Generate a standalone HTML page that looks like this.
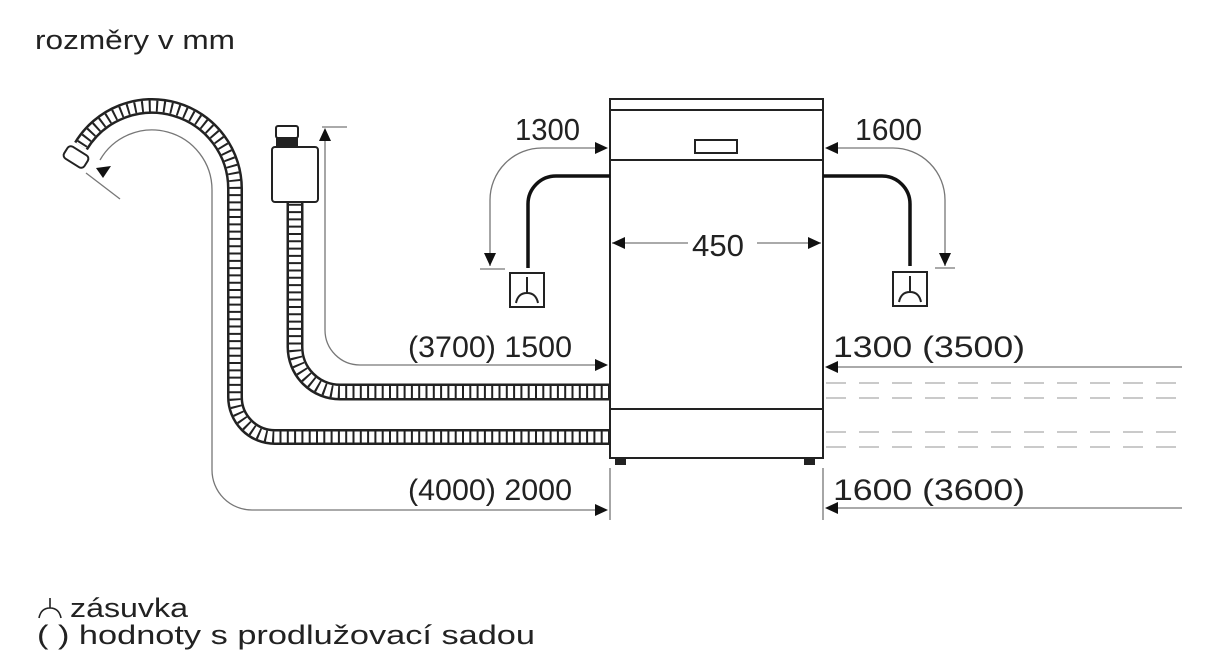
<!DOCTYPE html>
<html><head><meta charset="utf-8"><style>
html,body{margin:0;padding:0;background:#fff;}
svg{display:block;}
text{font-family:"Liberation Sans",sans-serif;fill:#222;}
</style></head><body>
<svg width="1222" height="662" viewBox="0 0 1222 662" xmlns="http://www.w3.org/2000/svg">
<text x="35" y="49" font-size="27" textLength="200" lengthAdjust="spacingAndGlyphs">rozměry v mm</text>

<g fill="none">
<path d="M610,437 H275 A40,40 0 0 1 235,397 V190 A83,83 0 0 0 81,146" stroke="#222" stroke-width="16"/>
<path d="M610,437 H275 A40,40 0 0 1 235,397 V190 A83,83 0 0 0 81,146" stroke="#fff" stroke-width="11"/>
<path d="M610,437 H275 A40,40 0 0 1 235,397 V190 A83,83 0 0 0 81,146" stroke="#222" stroke-width="11" stroke-dasharray="2 5.3"/>
<path d="M610,392 H340 A45,45 0 0 1 295,347 V200" stroke="#222" stroke-width="17"/>
<path d="M610,392 H340 A45,45 0 0 1 295,347 V200" stroke="#fff" stroke-width="12"/>
<path d="M610,392 H340 A45,45 0 0 1 295,347 V200" stroke="#222" stroke-width="12" stroke-dasharray="2 5.3"/>
</g>
<rect x="64" y="150" width="24" height="14" rx="4" transform="rotate(32 76 157)" fill="#fff" stroke="#222" stroke-width="2"/>
<rect x="272" y="147" width="46" height="55" rx="3" fill="#fff" stroke="#222" stroke-width="2"/>
<rect x="276" y="126" width="22" height="12" rx="2" fill="#fff" stroke="#222" stroke-width="2"/>
<rect x="276" y="138" width="22" height="9" fill="#222"/>

<g fill="none" stroke="#222" stroke-width="2">
<rect x="610" y="99" width="213" height="359" fill="#fff"/>
<line x1="610" y1="110" x2="823" y2="110"/>
<line x1="610" y1="160" x2="823" y2="160"/>
<line x1="610" y1="409" x2="823" y2="409"/>
<rect x="695" y="140" width="42" height="13"/>
</g>
<rect x="615" y="458" width="11" height="7" fill="#222"/>
<rect x="804" y="458" width="11" height="7" fill="#222"/>

<g fill="none" stroke="#777" stroke-width="1.3">
<path d="M100,160 A60,60 0 0 1 212,190 V470 A40,40 0 0 0 252,510 H606" />
<path d="M325,130 V330 A35,35 0 0 0 360,365 H606"/>
<line x1="322" y1="127" x2="347" y2="127"/>
<line x1="86" y1="173" x2="120" y2="199"/>
<line x1="610" y1="468" x2="610" y2="520"/>
<line x1="823" y1="468" x2="823" y2="520"/>
<path d="M490,266 V200 A52,52 0 0 1 542,148 H606"/>
<line x1="480" y1="269" x2="505" y2="269"/>
<path d="M945,266 V200 A52,52 0 0 0 893,148 H827"/>
<line x1="935" y1="268" x2="955" y2="268"/>
<line x1="1182" y1="367" x2="827" y2="367"/>
<line x1="1182" y1="508" x2="827" y2="508"/>
<line x1="612" y1="243" x2="688" y2="243"/>
<line x1="757" y1="243" x2="821" y2="243"/>
</g>
<g fill="none" stroke="#aaa" stroke-width="1.3" stroke-dasharray="20 13">
<line x1="826" y1="383" x2="1182" y2="383"/>
<line x1="826" y1="398" x2="1182" y2="398"/>
<line x1="826" y1="432" x2="1182" y2="432"/>
<line x1="826" y1="447" x2="1182" y2="447"/>
</g>
<g fill="#111">
<path d="M608,148 l-13,-6 v12z"/>
<path d="M825,148 l13,-6 v12z"/>
<path d="M490,266 l-6,-13 h12z"/>
<path d="M945,266 l-6,-13 h12z"/>
<path d="M608,365 l-13,-6 v12z"/>
<path d="M608,510 l-13,-6 v12z"/>
<path d="M825,367 l13,-6 v12z"/>
<path d="M825,508 l13,-6 v12z"/>
<path d="M612,243 l13,-6 v12z"/>
<path d="M821,243 l-13,-6 v12z"/>
<path d="M325,128 l-6,13 h12z"/>
<path d="M96,168 l15,-2 l-8,12z"/>
</g>
<g fill="none" stroke="#111" stroke-width="3.5">
<path d="M610,176 H556 A28,28 0 0 0 528,204 V268"/>
<path d="M823,176 H882 A28,28 0 0 1 910,204 V266"/>
</g>
<g fill="none" stroke="#222" stroke-width="2">
<rect x="510" y="273" width="34" height="34"/>
<path d="M527,277 V293 M516,303 Q518,293 527,293 Q536,293 538,303"/>
<rect x="893" y="272" width="34" height="34"/>
<path d="M910,276 V292 M899,302 Q901,292 910,292 Q919,292 921,302"/>
</g>
<text x="692" y="256" font-size="31" textLength="52" lengthAdjust="spacingAndGlyphs">450</text>
<text x="515" y="140" font-size="31" textLength="65" lengthAdjust="spacingAndGlyphs">1300</text>
<text x="855" y="140" font-size="31" textLength="67" lengthAdjust="spacingAndGlyphs">1600</text>
<text x="408" y="357" font-size="30" textLength="164" lengthAdjust="spacingAndGlyphs">(3700) 1500</text>
<text x="408" y="500" font-size="30" textLength="164" lengthAdjust="spacingAndGlyphs">(4000) 2000</text>
<text x="833" y="357" font-size="30" textLength="192" lengthAdjust="spacingAndGlyphs">1300 (3500)</text>
<text x="833" y="500" font-size="30" textLength="192" lengthAdjust="spacingAndGlyphs">1600 (3600)</text>
<g fill="none" stroke="#222" stroke-width="1.6">
<path d="M50,598 V608 M39,618 Q41,608 50,608 Q59,608 61,618"/>
</g>
<text x="70" y="617" font-size="27" textLength="118" lengthAdjust="spacingAndGlyphs">zásuvka</text>
<text x="37" y="644" font-size="27" textLength="498" lengthAdjust="spacingAndGlyphs">( ) hodnoty s prodlužovací sadou</text>
</svg>
</body></html>
